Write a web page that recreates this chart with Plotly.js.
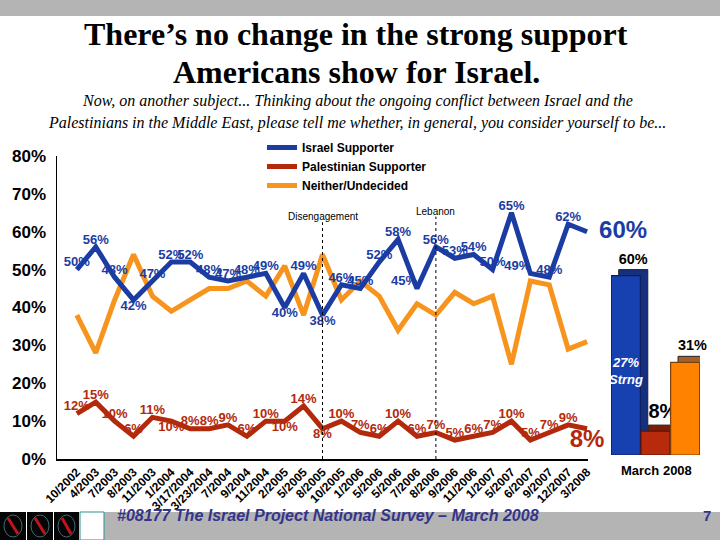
<!DOCTYPE html>
<html><head><meta charset="utf-8">
<script src="https://cdn.plot.ly/plotly-3.0.1.min.js"></script>
<style>html,body{margin:0;padding:0;background:#fff}#chart{width:720px;height:540px}</style>
</head><body><div id="chart"></div>
<script>
// ---- data ----
const surveyDates = ['10/2002','4/2003','7/2003','8/2003','11/2003','1/2004','3/17/2004','3/23/2004','7/2004','9/2004','11/2004','2/2005','5/2005','8/2005','10/2005','1/2006','5/2006','5/2006','7/2006','8/2006','9/2006','11/2006','1/2007','5/2007','6/2007','9/2007','12/2007','3/2008'];
const israelSupporter = [50,56,48,42,47,52,52,48,47,48,49,40,49,38,46,45,52,58,45,56,53,54,50,65,49,48,62,60];
const palestinianSupporter = [12,15,10,6,11,10,8,8,9,6,10,10,14,8,10,7,6,10,6,7,5,6,7,10,5,7,9,8];
const neitherUndecided = [38,28,42,54,43,39,42,45,45,47,43,51,38,54,42,47,43,34,41,38,44,41,43,25,47,46,29,31];
const seriesNames = ['Israel Supporter','Palestinian Supporter','Neither/Undecided'];
const march2008Values = [60, 8, 31];
const strongIsraelSupport = 27;
const eventLabels = ['Disengagement','Lebanon'];
const eventIndex = [13, 19];
const yTickVals = [0,10,20,30,40,50,60,70,80];
const titleLines = ['There’s no change in the strong support', 'Americans show for Israel.'];
const subtitleLines = ['Now, on another subject... Thinking about the ongoing conflict between Israel and the',
  'Palestinians in the Middle East, please tell me whether, in general, you consider yourself to be...'];
const footerText = '#08177 The Israel Project National Survey – March 2008';
const pageNumber = '7';
const barCaption = 'March 2008';

// ---- styling helpers ----
const BLUE = '#1b3da3', RED = '#b3290c', ORANGE = '#f7941d';
const L = 57, R = 15, T = 156, B = 81, W = 720, H = 540;
const pw = W - L - R, ph = H - T - B;
const px = x => (x - L) / pw;
const py = y => (H - B - y) / ph;
const xIdx = surveyDates.map((d, i) => i);
const last = surveyDates.length - 1;
const SANS = 'Arial, Liberation Sans, sans-serif';
const SERIF = 'Liberation Serif';

const bluePos = israelSupporter.map((v, i) =>
  i === last ? 'middle right' : ([3, 11, 13].includes(i) ? 'bottom center' : ([18, 24].includes(i) ? 'top left' : 'top center')));
const redPos = palestinianSupporter.map((v, i) =>
  i === last ? 'bottom center' : ([5, 11, 13].includes(i) ? 'bottom center' : 'top center'));
const sizes = israelSupporter.map((v, i) => i === last ? 24 : 13);
const pct = v => v + '%';
const blueText = israelSupporter.map((v, i) => i === last ? '\u2002' + pct(v) : pct(v));

const traces = [
  {x: xIdx, y: neitherUndecided, name: seriesNames[2], type: 'scatter', mode: 'lines',
   line: {color: ORANGE, width: 5}, legendrank: 3, xaxis: 'x', yaxis: 'y'},
  {x: xIdx, y: palestinianSupporter, name: seriesNames[1], type: 'scatter', mode: 'lines+text',
   text: palestinianSupporter.map(pct), textposition: redPos,
   textfont: {family: SANS, size: sizes, color: RED, weight: 'bold'},
   line: {color: RED, width: 5}, legendrank: 2, cliponaxis: false, xaxis: 'x', yaxis: 'y'},
  {x: xIdx, y: israelSupporter, name: seriesNames[0], type: 'scatter', mode: 'lines+text',
   text: blueText, textposition: bluePos,
   textfont: {family: SANS, size: sizes, color: BLUE, weight: 'bold'},
   line: {color: BLUE, width: 5}, legendrank: 1, cliponaxis: false, xaxis: 'x', yaxis: 'y'},
  // 3-D depth of the bars (drawn behind the front faces), carries the value labels
  {x: seriesNames, y: march2008Values, base: 2, offset: -0.24, width: 0.98, type: 'bar', xaxis: 'x2', yaxis: 'y2', showlegend: false,
   marker: {color: ['#14307f', '#7a1d08', '#a8602a'], line: {color: '#222', width: 1}}, hoverinfo: 'skip',
   text: march2008Values.map(pct), textposition: 'outside', cliponaxis: false,
   textfont: {family: SANS, size: 20, color: '#000', weight: 'bold'}},
  {x: seriesNames, y: march2008Values, type: 'bar', xaxis: 'x2', yaxis: 'y2', showlegend: false,
   offset: -0.49, width: 0.98,
   marker: {color: ['#1740b0', '#b82a0c', '#ff8200'], line: {color: ['#0d1f5e', '#5e1505', '#7a4010'], width: 1.2}}}
];

const shapes = [
  {type: 'rect', xref: 'paper', yref: 'paper', x0: px(0), x1: px(720), y0: py(16), y1: py(0), fillcolor: '#b4b4b4', line: {width: 0}, layer: 'below'},
  {type: 'rect', xref: 'paper', yref: 'paper', x0: px(104), x1: px(720), y0: py(540), y1: py(512), fillcolor: '#b4b4b4', line: {width: 0}, layer: 'below'},
];
[[0, 26], [27, 53], [54, 79]].forEach(([a, b]) => {
  shapes.push({type: 'rect', xref: 'paper', yref: 'paper', x0: px(a), x1: px(b), y0: py(540), y1: py(512), fillcolor: '#050505', line: {width: 0}});
  shapes.push({type: 'circle', xref: 'paper', yref: 'paper', x0: px(a + 4), x1: px(b - 4), y0: py(537), y1: py(515), line: {color: '#3d6b73', width: 1}});
  shapes.push({type: 'line', xref: 'paper', yref: 'paper', x0: px(a + 8), x1: px(b - 8), y0: py(518), y1: py(534), line: {color: '#c0141c', width: 3}});
});
shapes.push({type: 'rect', xref: 'paper', yref: 'paper', x0: px(80), x1: px(104), y0: py(540), y1: py(512), fillcolor: '#ffffff', line: {color: '#2f8f96', width: 1}});
eventIndex.forEach((ix, k) => {
  shapes.push({type: 'line', xref: 'x', yref: 'y', x0: ix, x1: ix, y0: 0, y1: k === 0 ? 62.5 : 64,
    line: {color: '#000', width: 1, dash: 'dot'}});
});

const annotations = [
  {xref: 'paper', yref: 'paper', x: px(356), y: py(34), text: '<b>' + titleLines[0] + '</b>', xanchor: 'center', yanchor: 'middle',
   showarrow: false, font: {family: SERIF, size: 32, color: '#000'}},
  {xref: 'paper', yref: 'paper', x: px(356), y: py(72), text: '<b>' + titleLines[1] + '</b>', xanchor: 'center', yanchor: 'middle',
   showarrow: false, font: {family: SERIF, size: 32, color: '#000'}},
  {xref: 'paper', yref: 'paper', x: px(357), y: py(101), text: '<i>' + subtitleLines[0] + '</i>',
   showarrow: false, font: {family: SERIF, size: 16, color: '#000'}, xanchor: 'center', yanchor: 'middle'},
  {xref: 'paper', yref: 'paper', x: px(357), y: py(123), text: '<i>' + subtitleLines[1] + '</i>',
   showarrow: false, font: {family: SERIF, size: 16, color: '#000'}, xanchor: 'center', yanchor: 'middle'},
  {xref: 'x', yref: 'y', x: eventIndex[0], y: 63.9, text: eventLabels[0], showarrow: false, yanchor: 'middle',
   font: {family: SANS, size: 10, color: '#000'}},
  {xref: 'x', yref: 'y', x: eventIndex[1], y: 65.3, text: eventLabels[1], showarrow: false, yanchor: 'middle',
   font: {family: SANS, size: 10, color: '#000'}},
  {xref: 'x2', yref: 'y2', x: seriesNames[0], y: 28, text: '<b><i>' + strongIsraelSupport + '%<br>Strng</i></b>', showarrow: false,
   font: {family: SANS, size: 13, color: '#ffffff'}},
  {xref: 'paper', yref: 'paper', x: px(656), y: py(480), xanchor: 'center', text: '<b>' + barCaption + '</b>', showarrow: false,
   font: {family: SANS, size: 13, color: '#000'}},
  {xref: 'paper', yref: 'paper', x: px(115), y: py(526), xanchor: 'left', text: '<b><i>' + footerText + '</i></b>', showarrow: false,
   font: {family: SANS, size: 16, color: '#34348a'}},
  {xref: 'paper', yref: 'paper', x: px(707), y: py(526), xanchor: 'center', text: '<b>' + pageNumber + '</b>', showarrow: false,
   font: {family: SANS, size: 15, color: '#34348a'}}
];

const layout = {
  width: W, height: H, margin: {l: L, r: R, t: T, b: B},
  paper_bgcolor: '#fff', plot_bgcolor: 'rgba(0,0,0,0)',
  showlegend: true, barmode: 'overlay',
  legend: {x: px(262), y: py(133), xanchor: 'left', yanchor: 'top', bgcolor: 'rgba(0,0,0,0)',
    font: {family: SANS, size: 12, color: '#000', weight: 'bold'}, tracegroupgap: 0},
  xaxis: {domain: [0, px(588)], range: [-1.05, 27.05], tickmode: 'array', tickvals: xIdx, ticktext: surveyDates,
    tickangle: -45, showline: true, linecolor: '#000', linewidth: 1.5, showgrid: false, zeroline: false, ticks: '',
    tickfont: {family: SANS, size: 12, color: '#000', weight: 'bold'}},
  yaxis: {range: [0, 80], tickmode: 'array', tickvals: yTickVals, ticktext: yTickVals.map(pct),
    showline: true, linecolor: '#000', linewidth: 1.5, showgrid: false, zeroline: false, ticks: 'outside', ticklen: 6, tickcolor: 'rgba(0,0,0,0)',
    tickfont: {family: SANS, size: 17, color: '#000', weight: 'bold'}},
  xaxis2: {domain: [px(611), px(700)], anchor: 'y2', visible: false, range: [-0.5, 2.5]},
  yaxis2: {domain: [py(455), 1], anchor: 'x2', visible: false, range: [0, 100]},
  shapes: shapes, annotations: annotations
};

Plotly.newPlot('chart', traces, layout, {displayModeBar: false, staticPlot: true});
</script></body></html>
